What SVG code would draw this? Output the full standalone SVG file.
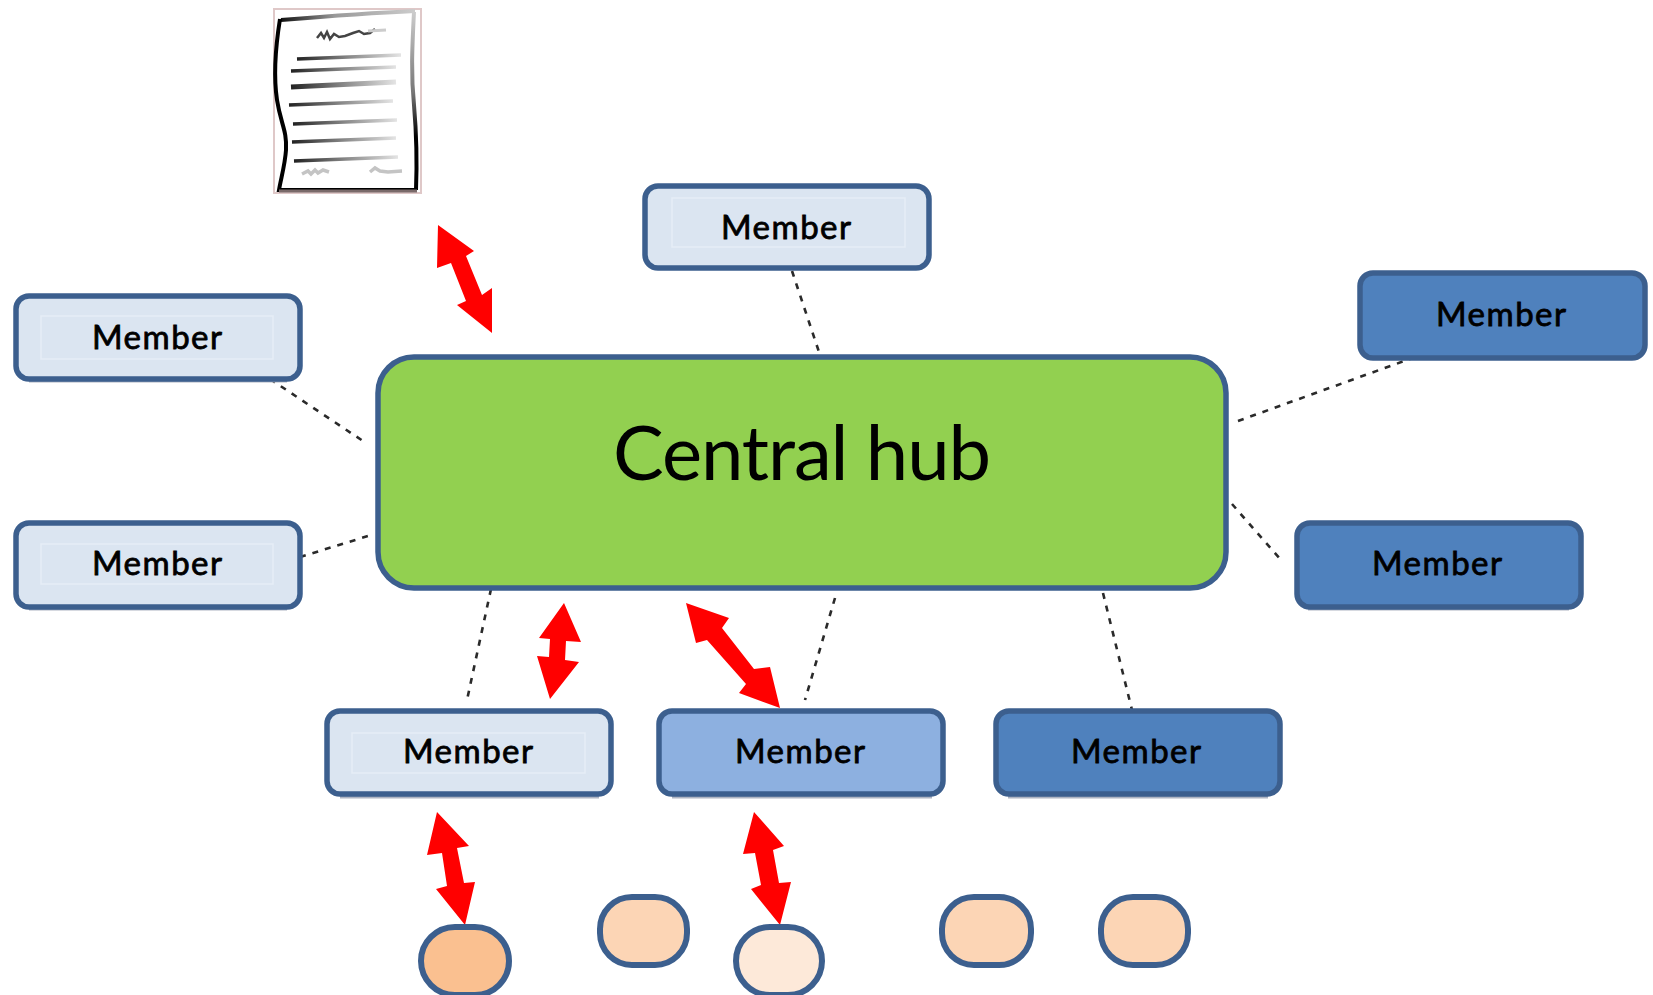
<svg xmlns="http://www.w3.org/2000/svg" width="1653" height="995" viewBox="0 0 1653 995">
<style>
.box{stroke:#3c5f8e;stroke-width:5.5}
.light{fill:#dbe5f1}.mid{fill:#8db0e0}.dark{fill:#4f81bd}
.inner{fill:none;stroke:#e6edf6;stroke-width:1.5}
.sh{stroke:#aeb4c2;stroke-width:3}
.lbl{font-family:"Lato","Liberation Sans",sans-serif;font-size:33px;fill:#000;stroke:#000;stroke-width:.8;text-anchor:middle}
.hubt{font-family:"Lato","Liberation Sans",sans-serif;font-size:76px;fill:#000;text-anchor:middle}
.dash{stroke:#2a2a2a;stroke-width:2.6;stroke-dasharray:6 7;fill:none}
.red{fill:#f00}
.oval{stroke:#3c5f8e;stroke-width:6}
.ink{stroke-linecap:butt;fill:none}
</style>
<defs>
<linearGradient id="g1" x1="0" x2="1" y1="0" y2="0"><stop offset="0" stop-color="#222"/><stop offset=".5" stop-color="#888"/><stop offset="1" stop-color="#e4e4e4"/></linearGradient>
<linearGradient id="g2" x1="0" x2="1" y1="0" y2="0"><stop offset="0" stop-color="#111"/><stop offset=".4" stop-color="#999"/><stop offset="1" stop-color="#ccc"/></linearGradient>
<linearGradient id="g3" x1="0" x2="0" y1="0" y2="1"><stop offset="0" stop-color="#ccc"/><stop offset=".45" stop-color="#777"/><stop offset=".7" stop-color="#000"/><stop offset="1" stop-color="#000"/></linearGradient>
</defs>

<g id="document">
<rect x="274" y="9" width="147" height="184" fill="#fff" stroke="#dfc8c8" stroke-width="2"/>
<path d="M281 20C330 16 370 13 415 11" stroke="url(#g2)" stroke-width="4" class="ink"/>
<path d="M280 19C275 50 274 80 277 100C281 125 287 130 286 150C285 165 281 178 279 190L416 190" stroke="#000" stroke-width="4" class="ink"/>
<path d="M414 12C412 50 411 75 414 105C417 140 417 165 416 190" stroke="url(#g3)" stroke-width="4" class="ink"/>
<path d="M279 191L417 191" stroke="#7a6a6a" stroke-width="3" class="ink"/>
<path d="M317 38l4-5 3 5 3-6 3 7 4-5 5 3 6-1 8-3 6-2 5 3 6-1 5-4" stroke="#444" stroke-width="2.5" class="ink"/>
<path d="M368 31L386 30" stroke="#ccc" stroke-width="3" class="ink"/>
<g class="ink" stroke="url(#g1)">
<path d="M297 59L401 55" stroke-width="3.5"/>
<path d="M291 71L396 67" stroke-width="3.5"/>
<path d="M291 87L396 82" stroke-width="5"/>
<path d="M289 105L393 101" stroke-width="3.5"/>
<path d="M293 124L397 120" stroke-width="3.5"/>
<path d="M292 142L396 138" stroke-width="3.5"/>
<path d="M294 161L398 157" stroke-width="3.5"/>
</g>
<path d="M302 174l6-3 3 3 4-4 3 3 5-3 6 2" stroke="#c4c4c4" stroke-width="3.5" class="ink"/>
<path d="M370 172l5-4 5 3 8 1 14-1" stroke="#c4c4c4" stroke-width="3.5" class="ink"/>
</g>

<g id="connectors">
<path class="dash" d="M792 271L821 358"/>
<path class="dash" d="M270 379L366 443"/>
<path class="dash" d="M300 557L368 536"/>
<path class="dash" d="M1238 421L1418 356"/>
<path class="dash" d="M1232 504L1281 560"/>
<path class="dash" d="M491 589L467 700"/>
<path class="dash" d="M835 598L805 700"/>
<path class="dash" d="M1103 593L1132 710"/>
<polygon class="red" points="438,225 474,251 466,256 482,295 492,288 492,333 457,305 466,301 451,263 437,268"/>
<polygon class="red" points="564,603 581,642 566,641 565,660 579,662 550,699 537,656 549,657 550,639 539,638"/>
<polygon class="red" points="686,603 729,618 722,628 754,669 770,667 780,708 739,693 746,684 707,640 696,643"/>
<polygon class="red" points="437,812 469,846 457,848 464,883 475,882 465,925 436,889 447,886 442,853 427,855"/>
<polygon class="red" points="754,812 784,846 773,850 779,883 791,882 780,925 751,889 761,885 755,853 743,854"/>
</g>

<g id="hub">
<rect class="box" x="378" y="357" width="848" height="231" rx="36" fill="#92d050"/>
<text class="hubt" x="802" y="480" textLength="378" lengthAdjust="spacing">Central hub</text>
</g>

<g id="member-top">
<rect class="box light" x="645" y="186" width="284" height="82" rx="13"/>
<rect class="inner" x="672" y="198" width="233" height="49"/>
<text class="lbl" x="786" y="239" textLength="130" lengthAdjust="spacing">Member</text>
</g>
<g id="member-left-1">
<line class="sh" x1="29" y1="381" x2="287" y2="381"/>
<rect class="box light" x="16" y="296" width="284" height="83" rx="13"/>
<rect class="inner" x="41" y="316" width="232" height="43"/>
<text class="lbl" x="157" y="349" textLength="130" lengthAdjust="spacing">Member</text>
</g>
<g id="member-left-2">
<line class="sh" x1="29" y1="609" x2="287" y2="609"/>
<rect class="box light" x="16" y="523" width="284" height="84" rx="13"/>
<rect class="inner" x="41" y="544" width="232" height="40"/>
<text class="lbl" x="157" y="575" textLength="130" lengthAdjust="spacing">Member</text>
</g>
<g id="member-right-1">
<rect class="box dark" x="1360" y="273" width="285" height="85" rx="13"/>
<text class="lbl" x="1501" y="326" textLength="130" lengthAdjust="spacing">Member</text>
</g>
<g id="member-right-2">
<line class="sh" x1="1308" y1="609" x2="1569" y2="609"/>
<rect class="box dark" x="1297" y="523" width="284" height="84" rx="13"/>
<text class="lbl" x="1437" y="575" textLength="130" lengthAdjust="spacing">Member</text>
</g>
<g id="member-bottom-1">
<line class="sh" x1="340" y1="797" x2="599" y2="797"/>
<rect class="box light" x="327" y="711" width="284" height="83" rx="13"/>
<rect class="inner" x="352" y="733" width="233" height="40"/>
<text class="lbl" x="468" y="763" textLength="130" lengthAdjust="spacing">Member</text>
</g>
<g id="member-bottom-2">
<line class="sh" x1="672" y1="797" x2="932" y2="797"/>
<rect class="box mid" x="659" y="711" width="284" height="83" rx="13"/>
<text class="lbl" x="800" y="763" textLength="130" lengthAdjust="spacing">Member</text>
</g>
<g id="member-bottom-3">
<line class="sh" x1="1008" y1="797" x2="1268" y2="797"/>
<rect class="box dark" x="996" y="711" width="284" height="83" rx="13"/>
<text class="lbl" x="1136" y="763" textLength="130" lengthAdjust="spacing">Member</text>
</g>

<g id="oval-1"><rect class="oval" x="421" y="927" width="88" height="68" rx="34" fill="#fac090"/></g>
<g id="oval-2"><rect class="oval" x="600" y="897" width="87" height="68" rx="32" fill="#fcd5b5"/></g>
<g id="oval-3"><rect class="oval" x="736" y="927" width="86" height="68" rx="34" fill="#fde9d9"/></g>
<g id="oval-4"><rect class="oval" x="942" y="897" width="89" height="68" rx="32" fill="#fcd5b5"/></g>
<g id="oval-5"><rect class="oval" x="1101" y="897" width="87" height="68" rx="32" fill="#fcd5b5"/></g>
</svg>
